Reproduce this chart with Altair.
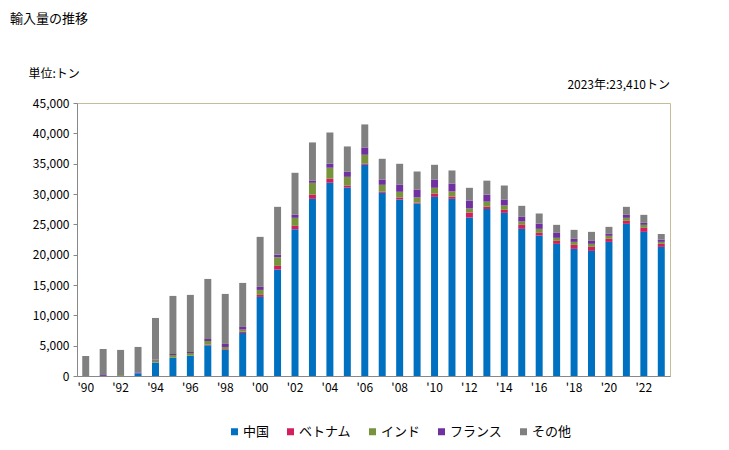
import altair as alt
import pandas as pd

years = list(range(1990, 2024))
countries = ["中国", "ベトナム", "インド", "フランス", "その他"]
colors = ["#0070C0", "#D41F5F", "#77933C", "#7030A0", "#808080"]

china = [0, 0, 0, 440, 2200, 3020, 3355, 5060, 4345, 7095, 13035, 17545, 24200, 29205,
         31845, 31070, 34815, 30195, 29100, 28435, 29535, 29205, 26125, 27530, 26895,
         24255, 23155, 21780, 20955, 20625, 22110, 25080, 23760, 21285]
vietnam = [0, 0, 0, 0, 0, 0, 0, 110, 110, 220, 330, 605, 550, 660, 660, 330, 220, 220,
           330, 165, 550, 385, 825, 385, 495, 660, 440, 495, 660, 660, 495, 495, 660, 495]
india = [0, 0, 150, 0, 330, 440, 440, 600, 330, 330, 825, 1430, 1320, 1980, 1815, 1430,
         1430, 1100, 935, 825, 935, 825, 660, 825, 715, 550, 660, 495, 495, 495, 495, 495,
         495, 330]
france = [0, 150, 0, 150, 165, 165, 165, 330, 500, 440, 500, 440, 500, 385, 660, 825,
          1210, 880, 1210, 1320, 1375, 1320, 1320, 1155, 990, 770, 880, 825, 495, 495,
          330, 495, 330, 385]
other = [3300, 4300, 4150, 4200, 6875, 9575, 9410, 9900, 8245, 7260, 8245, 7865, 6925,
         6270, 5170, 4185, 3795, 3410, 3405, 2965, 2420, 2145, 2090, 2305, 2305, 1815,
         1650, 1320, 1485, 1485, 1155, 1320, 1320, 915]

series = [china, vietnam, india, france, other]
rows = []
for ci, (name, vals) in enumerate(zip(countries, series)):
    for y, v in zip(years, vals):
        rows.append({"year": y, "country": name, "value": v, "ord": ci})
df = pd.DataFrame(rows)

JP = "Noto Sans CJK JP"

bars = alt.Chart(df).mark_bar().encode(
    x=alt.X("year:O",
            scale=alt.Scale(paddingInner=0.6, paddingOuter=0.3),
            axis=alt.Axis(title=None, labelAngle=0, ticks=False,
                          labelExpr="datum.value % 2 == 0 ? \"'\" + slice(toString(datum.value), 2) : ''",
                          labelFontSize=12, labelColor="#000", domainColor="#888888",
                          labelPadding=6, labelFont=JP)),
    y=alt.Y("value:Q", stack="zero",
            scale=alt.Scale(domain=[0, 45000]),
            axis=alt.Axis(values=list(range(0, 45001, 5000)), format=",.0f", grid=False,
                          title="単位:トン", titleAngle=0, titleAlign="left",
                          titleBaseline="middle", titleX=-49, titleY=-30,
                          titleFont=JP, titleFontSize=12, titleFontWeight="normal",
                          titleColor="#000",
                          labelFontSize=12, labelColor="#000", labelFont=JP,
                          tickSize=4, tickColor="#888888", domainColor="#888888",
                          labelPadding=4)),
    color=alt.Color("country:N", sort=countries,
                    scale=alt.Scale(domain=countries, range=colors),
                    legend=alt.Legend(title=None, orient="none", direction="horizontal",
                                      legendX=151, legendY=322, symbolType="square",
                                      symbolSize=49, symbolStrokeWidth=0,
                                      labelFont=JP, labelFontSize=13, labelColor="#000",
                                      columnPadding=14, labelOffset=2)),
    order=alt.Order("ord:Q", sort="ascending"),
)

title_df = pd.DataFrame({"t": ["輸入量の推移"]})
title = alt.Chart(title_df).mark_text(align="left", baseline="middle", font=JP,
                                      fontSize=13, color="#000").encode(
    x=alt.value(-67), y=alt.value(-84), text="t:N")

note_df = pd.DataFrame({"t": ["2023年:23,410トン"]})
note = alt.Chart(note_df).mark_text(align="right", baseline="middle", font=JP,
                                    fontSize=12, color="#000").encode(
    x=alt.value(593), y=alt.value(-18), text="t:N")

chart = alt.layer(bars, title, note).properties(
    width=593, height=273,
    autosize=alt.AutoSizeParams(type="none"),
    padding={"left": 69, "top": 95, "right": 51, "bottom": 66},
).configure_view(stroke="#C4BD97", strokeWidth=1)

chart.save("out.html", embed_options={"renderer": "svg", "actions": False})
